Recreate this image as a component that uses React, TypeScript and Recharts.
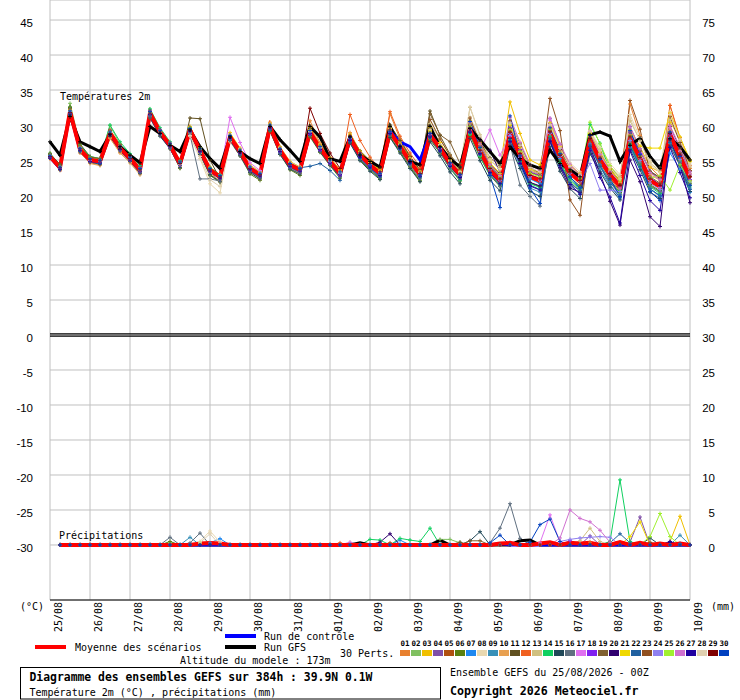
import React from "react";
import {
  CartesianGrid,
  Customized,
  Line,
  LineChart,
  ReferenceLine,
  XAxis,
  YAxis,
} from "recharts";

const MONO = "'DejaVu Sans Mono', monospace";
const SANS = "'Liberation Sans', Arial, sans-serif";

// time axis : 0..384h every 6h
const HOURS = Array.from({ length: 65 }, (_, i) => i * 6);
const DAY_TICKS = [0, 24, 48, 72, 96, 120, 144, 168, 192, 216, 240, 264, 288, 312, 336, 360, 384];
const DATES = ["25/08", "26/08", "27/08", "28/08", "29/08", "30/08", "31/08", "01/09", "02/09", "03/09", "04/09", "05/09", "06/09", "07/09", "08/09", "09/09", "10/09"];
const TEMP_TICKS = [-30, -25, -20, -15, -10, -5, 0, 5, 10, 15, 20, 25, 30, 35, 40, 45];
const PRECIP_TICKS = [0, 5, 10, 15, 20, 25, 30, 35, 40, 45, 50, 55, 60, 65, 70, 75];

const PERT_COLOURS = [
  "#e8802f", "#80c060", "#f0c000", "#8050a8", "#b05010", "#5a8010", "#1e88f0", "#e8d8b0", "#3890b8", "#e8a050",
  "#605020", "#f06020", "#d0c080", "#10d060", "#204858", "#607080", "#e070f0", "#8020f0", "#806030", "#300070",
  "#f0d800", "#2060a0", "#905020", "#9080f0", "#a0f030", "#d070d0", "#2000a0", "#e0d0b0", "#800000", "#0040c0",
];

// temperature 2m (°C)
const MEAN = [
  25.5, 23.9, 31.9, 26.5, 25.0, 24.8, 28.8, 26.7, 25.2, 23.6,
  31.7, 29.0, 27.1, 24.5, 29.3, 26.4, 23.6, 22.6, 28.3, 26.2,
  23.8, 22.9, 29.8, 26.4, 24.3, 23.6, 29.0, 26.7, 24.8, 23.1,
  28.1, 25.7, 24.3, 23.1, 29.0, 26.9, 24.8, 22.9, 28.6, 26.7,
  24.5, 22.9, 29.3, 26.2, 23.6, 22.1, 28.8, 25.7, 22.6, 22.1,
  28.8, 25.5, 23.1, 21.9, 27.9, 25.0, 22.9, 21.2, 28.1, 25.2,
  22.1, 21.2, 28.6, 25.5, 22.4,
];
const CONTROL = [
  25.4, 23.8, 31.8, 26.4, 24.9, 24.7, 28.7, 26.6, 25.1, 23.5,
  31.6, 28.9, 27.0, 24.4, 29.2, 26.3, 23.5, 22.5, 28.2, 26.1,
  23.7, 22.8, 29.7, 26.3, 24.2, 23.5, 28.9, 26.6, 24.7, 23.0,
  28.0, 25.6, 24.2, 23.0, 29.1, 27.6, 26.9, 25.0, 28.7, 26.8,
  24.6, 23.0, 29.4, 26.3, 23.7, 22.2, 28.9, 25.8, 22.7, 22.2,
  28.9, 25.6, 23.2, 22.0, 28.0, 25.1, 23.0, 21.3, 28.2, 25.3,
  22.2, 21.3, 28.7, 25.6, 22.5,
];
const GFS = [
  27.6, 25.7, 31.2, 27.6, 26.9, 26.2, 28.6, 26.9, 25.7, 24.6,
  29.8, 28.8, 27.1, 26.2, 29.3, 26.9, 25.2, 23.8, 28.3, 26.2,
  25.2, 24.5, 29.8, 27.9, 26.4, 24.8, 29.8, 28.3, 25.2, 24.8,
  28.3, 25.7, 24.8, 24.0, 29.8, 26.9, 24.8, 24.3, 29.8, 26.9,
  25.2, 24.0, 29.5, 27.9, 26.2, 24.5, 26.9, 25.2, 24.3, 23.8,
  26.4, 24.5, 23.6, 22.6, 28.6, 29.0, 28.4, 24.8, 27.1, 28.1,
  25.5, 23.8, 28.1, 26.9, 25.0,
];

const P01 = [25.2, 23.6, 31.5, 26.0, 24.6, 24.3, 28.2, 26.1, 24.9, 23.2, 31.0, 28.6, 26.8, 24.1, 29.6, 26.0, 23.2, 22.0, 28.0, 25.9, 23.4, 22.5, 30.4, 26.8, 24.6, 23.9, 30.6, 27.4, 25.3, 23.6, 28.9, 26.2, 24.9, 23.8, 31.6, 28.0, 25.6, 23.4, 29.3, 27.1, 25.0, 23.4, 30.1, 26.9, 24.4, 22.8, 29.4, 26.3, 23.5, 22.9, 29.6, 26.4, 23.9, 22.5, 28.9, 25.9, 23.8, 22.0, 33.0, 28.5, 24.0, 22.6, 32.8, 27.9, 23.8];
const P02 = [26.0, 24.2, 33.1, 27.2, 25.4, 25.1, 29.9, 27.3, 25.6, 23.9, 32.2, 29.3, 27.4, 24.6, 29.0, 26.1, 23.5, 22.3, 28.6, 26.6, 24.0, 23.0, 29.2, 26.0, 24.0, 23.2, 28.4, 26.2, 24.4, 22.6, 27.6, 25.1, 23.6, 22.4, 28.3, 26.2, 24.1, 22.1, 28.0, 26.3, 24.0, 22.2, 28.7, 25.6, 23.0, 21.4, 27.9, 24.8, 21.8, 21.2, 28.0, 24.6, 22.0, 20.8, 27.0, 24.1, 22.0, 20.2, 27.4, 24.6, 21.4, 20.4, 27.5, 24.9, 21.6];
const P03 = [25.6, 24.0, 32.0, 26.8, 25.2, 25.0, 29.1, 26.9, 25.4, 23.8, 31.9, 29.2, 27.3, 24.7, 29.8, 26.8, 24.0, 22.9, 28.9, 26.7, 24.3, 23.3, 30.2, 26.9, 24.8, 24.0, 29.6, 27.2, 25.3, 23.6, 28.7, 26.3, 24.9, 23.6, 29.8, 27.6, 25.4, 23.4, 29.6, 27.5, 25.2, 23.6, 30.6, 27.5, 24.9, 23.8, 33.3, 28.8, 25.0, 24.3, 30.2, 27.0, 24.3, 23.0, 28.8, 26.2, 24.0, 22.4, 29.3, 26.9, 24.0, 23.3, 30.4, 28.2, 25.0];
const P04 = [25.4, 23.8, 31.7, 26.4, 24.9, 24.6, 28.6, 26.5, 25.0, 23.4, 31.4, 28.8, 26.9, 24.3, 29.0, 26.2, 23.3, 22.4, 28.0, 26.0, 23.6, 22.6, 29.5, 26.1, 24.0, 23.3, 28.7, 26.4, 24.5, 22.8, 28.4, 26.0, 24.5, 23.3, 29.4, 27.3, 25.1, 23.1, 29.2, 27.0, 24.8, 23.0, 29.8, 26.7, 24.0, 22.4, 30.4, 27.0, 23.8, 22.9, 30.9, 27.2, 24.0, 22.6, 28.6, 25.9, 23.6, 21.8, 29.8, 26.6, 23.4, 22.4, 29.2, 26.4, 23.0];
const P05 = [25.7, 24.1, 32.3, 26.9, 25.3, 25.1, 29.3, 27.2, 25.6, 24.0, 32.0, 29.3, 27.4, 24.8, 29.1, 26.3, 23.5, 22.4, 28.1, 26.0, 23.6, 22.7, 29.6, 26.2, 24.1, 23.4, 28.8, 26.5, 24.6, 22.9, 28.0, 25.5, 24.0, 22.7, 28.8, 26.7, 24.6, 22.6, 28.4, 26.5, 24.3, 22.6, 29.1, 26.1, 23.3, 21.7, 29.0, 25.9, 22.4, 21.7, 29.2, 25.8, 23.2, 21.8, 27.6, 24.6, 22.4, 20.6, 28.0, 25.0, 21.9, 21.0, 28.3, 25.2, 22.1];
const P06 = [25.8, 24.3, 32.6, 27.0, 25.1, 24.8, 28.7, 26.6, 25.0, 23.3, 31.5, 28.8, 26.7, 23.8, 28.9, 25.8, 22.8, 21.8, 27.7, 25.6, 23.0, 22.1, 29.1, 25.8, 23.6, 22.8, 28.3, 26.1, 24.2, 22.4, 27.5, 25.0, 23.6, 22.3, 28.3, 26.2, 24.0, 22.0, 27.9, 26.0, 23.8, 22.0, 28.5, 25.4, 22.8, 21.2, 28.1, 24.9, 21.7, 21.2, 28.3, 25.0, 22.5, 21.3, 27.1, 24.3, 22.1, 20.4, 27.3, 24.6, 21.5, 20.6, 27.9, 25.0, 21.7];
const P07 = [25.3, 23.7, 31.6, 26.5, 25.0, 24.7, 29.0, 26.8, 25.3, 23.7, 31.8, 29.1, 27.2, 24.6, 29.5, 26.6, 23.8, 22.8, 28.4, 26.3, 23.9, 23.0, 29.9, 26.5, 24.4, 23.7, 29.1, 26.8, 24.9, 23.2, 28.2, 25.8, 24.3, 23.1, 29.2, 27.1, 25.0, 23.0, 28.9, 26.9, 24.7, 23.1, 29.7, 26.6, 23.9, 22.3, 28.5, 25.4, 22.3, 21.6, 28.9, 25.2, 22.6, 21.0, 27.3, 24.3, 21.9, 20.1, 26.8, 24.0, 20.9, 19.8, 26.0, 23.7, 20.4];
const P08 = [25.5, 23.9, 31.8, 26.4, 24.8, 24.6, 28.5, 26.3, 24.6, 22.9, 31.4, 28.6, 26.7, 24.0, 28.4, 25.2, 21.6, 20.3, 27.6, 25.7, 23.3, 22.4, 29.7, 26.3, 24.2, 23.5, 29.3, 26.9, 25.0, 23.3, 28.5, 26.1, 24.6, 23.4, 29.5, 27.3, 25.2, 23.2, 29.0, 27.0, 24.8, 23.2, 31.2, 27.9, 25.0, 23.8, 31.0, 27.6, 24.4, 23.7, 30.0, 26.9, 24.6, 23.3, 29.2, 26.8, 24.5, 22.9, 31.5, 28.2, 25.0, 23.8, 31.9, 28.0, 24.6];
const P09 = [25.6, 24.0, 32.0, 26.7, 25.1, 24.9, 28.9, 26.8, 25.3, 23.7, 31.9, 29.1, 27.2, 24.6, 29.4, 26.6, 23.7, 22.7, 28.4, 26.3, 23.8, 22.9, 29.8, 26.4, 24.3, 23.6, 28.9, 26.6, 24.7, 23.0, 27.8, 25.4, 23.9, 22.7, 28.6, 26.5, 24.4, 22.5, 28.2, 26.3, 24.1, 22.5, 28.8, 25.7, 23.0, 21.3, 27.4, 24.2, 21.0, 20.4, 27.6, 24.1, 21.5, 20.2, 26.4, 23.6, 21.3, 19.6, 26.9, 24.0, 20.8, 19.9, 27.4, 24.6, 21.0];
const P10 = [25.2, 23.5, 31.3, 26.1, 24.5, 24.2, 28.1, 26.0, 24.6, 22.9, 31.2, 28.5, 26.6, 23.9, 28.8, 25.9, 23.0, 22.0, 27.8, 25.7, 23.3, 22.3, 29.3, 25.9, 23.8, 23.1, 29.8, 27.3, 25.2, 23.4, 28.7, 26.2, 24.7, 23.5, 29.7, 27.4, 25.3, 23.4, 29.1, 27.0, 24.9, 23.3, 29.5, 26.4, 23.8, 22.4, 29.1, 26.0, 22.9, 22.4, 29.5, 26.1, 23.6, 22.6, 28.4, 25.6, 23.5, 21.8, 28.6, 25.8, 22.9, 22.1, 29.2, 26.3, 23.0];
const P11 = [25.9, 24.4, 32.5, 27.3, 25.5, 25.2, 29.0, 26.9, 25.3, 23.7, 31.3, 28.9, 27.0, 24.5, 31.0, 30.9, 25.0, 22.3, 27.9, 25.8, 23.4, 22.5, 29.5, 26.2, 24.1, 23.4, 29.3, 27.0, 25.0, 23.3, 28.5, 26.3, 24.9, 23.8, 30.0, 27.8, 25.5, 23.6, 32.0, 28.5, 25.8, 23.9, 30.4, 27.6, 25.3, 24.2, 30.0, 27.3, 24.2, 23.7, 29.4, 26.5, 24.1, 22.8, 28.6, 26.1, 23.7, 22.0, 29.0, 26.3, 23.4, 22.5, 29.8, 26.7, 23.4];
const P12 = [25.4, 23.8, 31.9, 26.6, 25.0, 24.7, 28.7, 26.6, 25.1, 23.5, 31.6, 28.9, 27.0, 24.4, 29.2, 26.3, 23.5, 22.5, 28.2, 26.1, 23.7, 22.8, 29.7, 26.3, 24.2, 23.5, 29.2, 26.9, 25.0, 23.3, 31.5, 27.8, 25.4, 23.7, 31.9, 28.4, 26.0, 24.0, 29.0, 27.0, 24.8, 23.2, 29.6, 26.5, 23.8, 22.2, 29.2, 26.0, 22.9, 22.4, 29.4, 26.0, 23.3, 22.2, 28.3, 25.4, 23.2, 21.6, 28.4, 25.5, 22.4, 21.5, 32.8, 28.2, 24.2];
const P13 = [25.6, 24.0, 31.7, 26.6, 25.1, 24.9, 29.2, 27.0, 25.4, 23.8, 31.7, 29.0, 27.1, 24.5, 29.0, 26.0, 23.0, 21.8, 28.6, 26.6, 24.2, 23.3, 30.1, 26.8, 24.7, 24.0, 29.0, 26.7, 24.8, 23.1, 28.0, 25.6, 24.1, 22.9, 29.2, 27.1, 25.0, 23.1, 30.2, 28.0, 25.7, 24.0, 32.5, 28.6, 25.2, 24.3, 30.1, 26.8, 23.5, 23.0, 29.9, 26.7, 24.2, 23.0, 29.0, 26.5, 24.1, 22.6, 30.6, 27.8, 24.6, 23.4, 30.8, 27.6, 24.0];
const P14 = [25.8, 24.2, 32.4, 27.1, 25.5, 25.2, 30.0, 27.6, 25.9, 24.2, 32.3, 29.6, 27.6, 24.9, 29.6, 26.7, 23.9, 22.9, 28.5, 26.4, 24.0, 23.1, 29.9, 26.6, 24.5, 23.8, 29.1, 26.8, 24.9, 23.2, 28.3, 25.9, 24.4, 23.2, 28.9, 26.8, 24.6, 22.6, 28.2, 26.1, 23.8, 22.1, 28.7, 25.5, 22.8, 21.5, 28.0, 24.8, 21.6, 21.1, 28.4, 24.6, 22.2, 20.9, 30.1, 27.4, 23.4, 20.6, 27.2, 24.3, 21.2, 20.2, 28.0, 24.8, 21.3];
const P15 = [25.3, 23.7, 31.4, 26.2, 24.7, 24.4, 28.4, 26.3, 24.8, 23.1, 31.0, 28.4, 26.6, 23.9, 28.7, 25.8, 22.9, 21.9, 27.8, 25.6, 23.2, 22.3, 29.2, 25.8, 23.7, 23.0, 28.5, 26.2, 24.3, 22.6, 27.4, 24.9, 23.4, 22.2, 28.2, 26.0, 23.8, 21.9, 27.6, 25.6, 23.3, 21.6, 28.1, 24.9, 22.1, 20.6, 27.0, 23.8, 20.5, 19.8, 26.9, 23.4, 20.9, 19.5, 25.9, 23.3, 21.0, 19.3, 26.5, 23.6, 20.4, 19.5, 27.0, 24.2, 20.5];
const P16 = [25.4, 23.8, 31.5, 26.2, 24.8, 24.5, 28.6, 26.4, 24.9, 23.2, 31.2, 28.6, 26.7, 24.3, 28.6, 22.3, 22.3, 22.0, 27.9, 25.8, 23.4, 22.5, 29.4, 26.0, 23.9, 23.2, 28.6, 26.3, 24.4, 22.7, 27.7, 25.2, 23.7, 22.5, 28.6, 26.4, 24.2, 22.3, 28.1, 26.1, 23.8, 22.2, 28.9, 25.8, 22.9, 21.3, 27.3, 21.4, 19.8, 18.4, 27.9, 24.3, 21.6, 20.6, 27.1, 24.1, 21.8, 20.0, 27.6, 24.6, 21.3, 20.5, 27.7, 24.8, 21.4];
const P17 = [25.5, 23.9, 31.9, 26.6, 25.1, 24.9, 29.1, 26.9, 25.4, 23.8, 31.8, 29.1, 27.2, 24.6, 29.5, 26.6, 23.8, 22.8, 31.1, 27.5, 24.6, 23.5, 30.0, 26.6, 24.5, 23.8, 29.2, 26.9, 25.0, 23.3, 28.3, 25.9, 24.4, 23.2, 29.1, 27.0, 24.9, 23.0, 28.8, 26.8, 24.6, 23.0, 29.5, 26.4, 29.3, 25.7, 28.4, 25.4, 22.7, 22.2, 30.7, 27.0, 24.0, 22.6, 29.1, 25.9, 23.3, 21.5, 28.3, 25.3, 22.1, 21.1, 29.6, 26.2, 22.9];
const P18 = [25.6, 24.0, 32.1, 26.8, 25.2, 25.0, 29.1, 27.0, 25.5, 23.9, 32.0, 29.3, 27.4, 24.7, 29.4, 26.5, 23.7, 22.6, 28.5, 26.4, 24.0, 23.1, 29.9, 26.5, 24.4, 23.7, 28.7, 26.4, 24.5, 22.8, 27.9, 25.5, 24.1, 22.8, 29.3, 27.2, 25.1, 23.1, 28.9, 26.9, 24.6, 22.9, 30.1, 27.0, 24.2, 22.5, 29.6, 26.5, 23.3, 22.8, 30.2, 26.7, 24.1, 22.9, 28.2, 25.2, 22.9, 21.3, 29.0, 25.9, 22.5, 21.4, 28.6, 25.6, 22.2];
const P19 = [25.7, 24.1, 32.0, 26.9, 25.3, 25.0, 28.9, 26.8, 25.3, 23.7, 31.9, 29.2, 27.3, 24.6, 29.4, 26.5, 23.7, 22.7, 28.4, 26.3, 23.9, 23.0, 29.7, 26.4, 24.3, 23.6, 28.9, 26.6, 24.7, 23.0, 28.2, 25.8, 24.3, 23.1, 29.6, 27.4, 25.3, 23.3, 31.6, 28.6, 27.6, 24.5, 30.0, 27.0, 24.4, 23.0, 29.5, 26.3, 23.2, 22.7, 29.3, 26.0, 23.4, 22.3, 28.2, 25.4, 23.1, 21.5, 28.5, 25.6, 22.6, 21.7, 28.9, 26.0, 22.7];
const P20 = [25.4, 23.8, 31.8, 26.5, 25.0, 24.8, 28.8, 26.7, 25.2, 23.6, 31.6, 28.9, 27.0, 24.4, 29.2, 26.3, 23.5, 22.5, 28.2, 26.1, 23.7, 22.8, 29.6, 26.3, 24.2, 23.5, 28.8, 26.5, 24.6, 22.9, 28.0, 25.6, 24.2, 23.0, 28.9, 26.8, 24.7, 22.8, 28.5, 26.5, 24.3, 22.7, 29.7, 27.9, 26.4, 23.2, 28.1, 24.9, 21.8, 21.3, 27.6, 23.9, 21.0, 20.4, 26.9, 23.1, 19.1, 15.7, 25.0, 21.9, 16.9, 15.5, 27.9, 24.3, 18.9];
const P21 = [25.6, 24.0, 32.2, 26.9, 25.3, 25.1, 29.0, 26.9, 25.4, 23.8, 31.8, 29.1, 27.2, 24.6, 29.5, 26.6, 23.8, 22.8, 28.5, 26.4, 24.0, 23.1, 30.0, 26.6, 24.5, 23.8, 29.3, 27.0, 25.1, 23.4, 28.6, 26.2, 24.7, 23.5, 29.5, 27.3, 25.2, 23.3, 29.2, 27.2, 25.0, 23.4, 30.3, 27.2, 24.6, 23.1, 30.0, 26.8, 23.7, 23.2, 30.3, 26.9, 24.2, 23.0, 28.9, 26.0, 23.7, 22.0, 29.2, 27.0, 26.7, 26.7, 31.7, 28.3, 24.8];
const P22 = [25.3, 23.6, 31.5, 26.3, 24.8, 24.5, 28.6, 26.5, 25.0, 23.4, 31.4, 28.7, 26.9, 24.2, 29.0, 26.1, 23.3, 22.3, 28.0, 25.9, 23.5, 22.6, 29.4, 26.0, 23.9, 23.9, 24.1, 24.5, 23.5, 22.1, 27.6, 25.2, 23.8, 22.6, 28.7, 26.6, 24.5, 22.6, 28.4, 26.4, 24.2, 22.6, 29.0, 25.9, 23.1, 21.7, 27.8, 24.6, 21.4, 20.8, 28.1, 24.4, 21.8, 20.6, 27.0, 24.1, 21.5, 19.6, 27.1, 24.1, 20.9, 19.9, 27.5, 24.4, 20.8];
const P23 = [25.7, 24.2, 32.3, 27.0, 25.4, 25.2, 29.2, 27.0, 25.4, 23.8, 31.9, 29.2, 27.3, 24.6, 29.5, 26.6, 23.7, 22.7, 28.4, 26.3, 23.9, 23.0, 29.9, 26.6, 24.5, 23.8, 29.2, 26.9, 24.9, 23.2, 28.3, 25.9, 24.4, 23.1, 29.3, 27.1, 25.0, 23.1, 30.8, 28.0, 25.6, 23.6, 31.0, 27.4, 24.3, 22.6, 30.6, 27.0, 24.0, 23.1, 33.8, 29.2, 19.3, 17.1, 28.0, 25.2, 23.0, 21.4, 33.5, 29.4, 23.3, 22.2, 31.2, 27.5, 23.5];
const P24 = [25.5, 23.9, 31.9, 26.6, 25.1, 24.9, 28.8, 26.7, 25.2, 23.6, 31.7, 29.0, 27.1, 24.5, 29.3, 26.4, 23.6, 22.6, 28.3, 26.2, 23.8, 22.9, 29.8, 26.4, 24.3, 23.6, 29.0, 26.7, 24.8, 23.1, 28.1, 25.7, 24.3, 23.1, 29.0, 26.9, 24.8, 22.9, 28.6, 26.7, 24.5, 22.9, 29.3, 26.2, 23.6, 22.1, 28.8, 25.7, 22.6, 22.1, 28.8, 25.5, 23.1, 21.9, 24.5, 20.7, 20.7, 20.5, 27.8, 24.9, 21.7, 20.8, 28.2, 25.1, 21.9];
const P25 = [25.6, 24.0, 32.0, 26.7, 25.2, 24.9, 29.0, 26.9, 25.3, 23.7, 31.8, 29.1, 27.2, 24.6, 29.4, 26.5, 23.7, 22.7, 28.4, 26.3, 23.9, 23.0, 29.9, 26.5, 24.4, 23.7, 29.1, 26.8, 24.9, 23.2, 28.3, 25.9, 24.4, 23.2, 29.2, 27.1, 25.0, 23.0, 29.0, 27.0, 24.7, 23.1, 29.8, 26.7, 24.1, 22.6, 29.3, 26.2, 23.1, 22.6, 29.4, 26.0, 23.6, 22.4, 30.4, 27.3, 24.2, 22.3, 28.4, 25.5, 22.4, 22.8, 20.7, 24.3, 22.0];
const P26 = [25.4, 23.8, 31.8, 26.5, 24.9, 24.7, 28.6, 26.5, 25.0, 23.4, 31.5, 28.8, 26.9, 24.3, 29.1, 26.2, 23.4, 22.4, 28.1, 26.0, 23.6, 22.7, 29.6, 26.2, 24.1, 23.4, 28.8, 26.5, 24.6, 22.9, 28.4, 26.0, 24.5, 23.3, 29.1, 27.0, 24.9, 22.8, 28.7, 26.6, 24.4, 22.8, 30.4, 27.3, 24.4, 22.8, 31.1, 27.5, 24.3, 23.5, 31.0, 27.3, 24.4, 22.9, 28.5, 25.8, 23.3, 21.0, 29.7, 26.6, 23.2, 22.2, 29.9, 26.9, 23.3];
const P27 = [25.3, 23.7, 31.6, 26.4, 24.8, 24.6, 28.6, 26.5, 25.0, 23.4, 31.5, 28.8, 26.9, 24.3, 29.1, 26.2, 23.4, 22.4, 28.1, 26.0, 23.6, 22.7, 29.6, 26.2, 24.1, 23.4, 28.8, 26.5, 24.6, 22.9, 27.8, 25.4, 24.0, 22.8, 28.8, 26.7, 24.6, 22.7, 28.3, 26.3, 24.1, 22.5, 29.0, 25.9, 23.2, 21.6, 27.6, 24.5, 21.3, 20.7, 27.7, 24.2, 21.5, 20.1, 26.4, 22.5, 19.7, 16.0, 26.3, 22.8, 19.2, 17.8, 26.8, 23.2, 19.6];
const P28 = [25.6, 24.0, 31.9, 26.7, 25.1, 24.9, 28.9, 26.8, 25.3, 23.6, 31.7, 29.0, 27.1, 24.4, 28.5, 25.5, 22.2, 21.2, 28.5, 26.4, 24.0, 23.1, 30.0, 26.6, 24.5, 23.8, 29.1, 26.8, 24.9, 23.2, 28.3, 25.9, 24.4, 23.2, 29.4, 27.2, 25.1, 23.2, 29.4, 27.2, 24.9, 23.3, 32.6, 28.4, 25.0, 23.6, 30.3, 27.1, 23.9, 23.3, 30.0, 26.7, 24.1, 22.8, 29.0, 26.3, 23.9, 22.3, 31.0, 27.7, 24.4, 23.2, 31.5, 27.9, 24.3];
const P29 = [25.5, 23.9, 31.8, 26.6, 25.1, 24.9, 28.8, 26.7, 25.2, 23.6, 31.7, 29.0, 27.1, 24.5, 29.3, 26.4, 23.6, 22.6, 28.3, 26.2, 23.8, 22.9, 29.8, 26.5, 24.4, 23.7, 32.4, 28.8, 26.0, 23.8, 28.4, 26.0, 24.5, 23.3, 29.3, 27.1, 25.0, 23.1, 28.8, 26.8, 24.6, 23.0, 29.5, 26.4, 23.8, 22.3, 29.0, 25.9, 22.8, 22.3, 29.0, 25.7, 23.3, 22.1, 28.1, 25.2, 23.1, 21.4, 28.3, 25.4, 22.3, 21.4, 28.8, 25.7, 22.6];
const P30 = [25.6, 24.0, 32.0, 26.7, 25.2, 25.0, 29.0, 26.9, 25.4, 23.8, 31.9, 29.2, 27.3, 24.7, 29.5, 26.6, 23.8, 22.8, 28.5, 26.4, 24.0, 23.1, 30.0, 26.6, 24.5, 23.8, 29.2, 26.9, 25.0, 23.3, 28.2, 25.8, 24.3, 23.1, 29.1, 27.0, 24.9, 22.9, 28.8, 26.8, 24.6, 22.9, 30.5, 26.8, 22.8, 18.2, 31.3, 25.6, 21.0, 18.8, 29.6, 25.9, 22.6, 21.0, 28.5, 25.1, 22.3, 19.8, 29.2, 25.8, 20.5, 19.2, 29.0, 25.5, 21.4];

const PERTS = [P01, P02, P03, P04, P05, P06, P07, P08, P09, P10, P11, P12, P13, P14, P15, P16, P17, P18, P19, P20, P21, P22, P23, P24, P25, P26, P27, P28, P29, P30];

// precipitation (mm) : [hour, mm], every other 6h step is 0
const R01 = [[324, 0.4]];
const R02 = [[72, 0.3], [234, 0.8], [240, 0.8], [246, 0.3]];
const R03 = [[372, 0.5], [378, 4.1]];
const R04 = [[324, 1.3], [348, 0.4], [354, 4.0]];
const R05 = [[204, 0.3]];
const R06 = [[72, 0.5]];
const R07 = [[96, 0.3], [102, 0.9], [210, 0.7]];
const R08 = [[90, 0.5], [96, 2.0], [102, 0.4]];
const R09 = [[84, 1.1], [378, 1.4]];
const R10 = [[348, 0.4]];
const R11 = [[246, 0.4]];
const R12 = [[174, 0.3], [336, 0.3]];
const R13 = [[318, 0.6], [324, 2.4], [330, 0.5]];
const R14 = [[192, 0.8], [198, 0.7], [210, 0.95], [216, 0.7], [222, 0.5], [228, 2.4], [336, 0.5], [342, 9.3], [348, 0.5]];
const R15 = [[252, 0.6], [258, 1.9], [360, 1.0]];
const R16 = [[72, 1.1], [84, 0.3], [90, 1.7], [264, 0.3], [270, 2.4], [276, 5.9], [282, 0.95]];
const R17 = [[294, 0.3], [300, 4.3], [306, 0.4]];
const R18 = [[312, 0.6]];
const R19 = [[252, 0.6], [258, 0.6]];
const R20 = [[198, 0.4], [204, 1.6], [372, 0.4]];
const R21 = [[348, 1.2], [354, 3.3]];
const R22 = [[336, 0.3], [342, 1.6], [348, 0.3], [378, 0.2]];
const R23 = [[336, 0.4], [360, 0.4]];
const R24 = [[306, 0.5], [312, 0.8], [318, 1.0], [324, 1.1], [330, 1.2], [336, 1.1]];
const R25 = [[90, 0.3], [360, 1.2], [366, 4.5], [372, 1.2]];
const R26 = [[180, 0.4], [306, 1.0], [312, 5.0], [318, 3.8], [324, 3.3], [330, 2.1], [336, 0.4]];
const R27 = [[372, 0.5]];
const R28 = [[90, 0.3], [96, 1.6]];
const R29 = [];
const R30 = [[264, 0.3], [270, 1.4], [288, 0.4], [294, 2.9], [300, 3.7], [306, 0.5]];
const RAIN = [R01, R02, R03, R04, R05, R06, R07, R08, R09, R10, R11, R12, R13, R14, R15, R16, R17, R18, R19, R20, R21, R22, R23, R24, R25, R26, R27, R28, R29, R30];

const RAIN_MEAN = [[90, 0.2], [96, 0.3], [102, 0.2], [270, 0.2], [276, 0.3], [294, 0.2], [300, 0.4], [312, 0.3], [318, 0.2], [324, 0.3], [342, 0.4], [354, 0.3], [366, 0.2], [378, 0.2]];
const RAIN_CONTROL = [[270, 0.2]];
const RAIN_GFS = [[186, 0.3], [234, 0.7], [282, 0.6], [288, 0.7]];

const rainSeries = (ev: number[][]) =>
  HOURS.map((t) => (t === 0 ? null : ev.find((e) => e[0] === t)?.[1] ?? 0));

const rows = HOURS.map((t, i) => {
  const r: Record<string, number | null> = { t };
  PERTS.forEach((p, k) => (r["m" + k] = p[i]));
  RAIN.forEach((p, k) => (r["r" + k] = rainSeries(p)[i]));
  r.mean = MEAN[i];
  r.ctrl = CONTROL[i];
  r.gfs = GFS[i];
  r.rmean = rainSeries(RAIN_MEAN)[i];
  r.rctrl = rainSeries(RAIN_CONTROL)[i];
  r.rgfs = rainSeries(RAIN_GFS)[i];
  return r;
});

const cross = (colour: string) => (p: any) => {
  const { cx, cy, index } = p;
  if (cx == null || cy == null || p.value == null) return <g key={index} />;
  return (
    <path key={index} d={`M${cx - 2},${cy}h4M${cx},${cy - 2}v4`} stroke={colour} strokeWidth={1} fill="none" />
  );
};

const DateTick = ({ x, payload }: any) => {
  const i = DAY_TICKS.indexOf(payload.value);
  return (
    <text transform={`translate(${x + 11.5},602) rotate(-90)`} textAnchor="end" fontFamily={MONO} fontSize={10} fill="#000">
      {DATES[i]}
    </text>
  );
};
const LeftTick = ({ y, payload }: any) => (
  <text x={33} y={y + 7} textAnchor="end" fontFamily={SANS} fontSize={11.5} fill="#000">{payload.value}</text>
);
const RightTick = ({ y, payload }: any) => (
  <text x={715} y={y + 7} textAnchor="end" fontFamily={SANS} fontSize={11.5} fill="#000">{payload.value}</text>
);

const Overlay = () => (
  <g fontFamily={MONO} fill="#000">
    <text x={60} y={100} fontSize={10}>Températures 2m</text>
    <text x={59} y={539} fontSize={10}>Précipitations</text>
    <text x={20} y={610} fontSize={10}>(°C)</text>
    <text x={711} y={610} fontSize={10}>(mm)</text>
    <line x1={35} x2={66} y1={647} y2={647} stroke="#ff0000" strokeWidth={4} />
    <text x={75} y={650.5} fontSize={10}>Moyenne des scénarios</text>
    <line x1={225} x2={256} y1={636} y2={636} stroke="#0000ff" strokeWidth={4} />
    <text x={264} y={640} fontSize={10}>Run de contrôle</text>
    <line x1={225} x2={256} y1={647} y2={647} stroke="#000000" strokeWidth={4} />
    <text x={264} y={650.5} fontSize={10}>Run GFS</text>
    <text x={180} y={663.5} fontSize={10}>Altitude du modele : 173m</text>
    <text x={340} y={656.5} fontSize={10}>30 Perts.</text>
    {PERT_COLOURS.map((c, i) => (
      <g key={c + i}>
        <text x={405 + 11 * i} y={646} fontSize={7.5} fontWeight="bold" textAnchor="middle">
          {String(i + 1).padStart(2, "0")}
        </text>
        <rect x={400 + 11 * i} y={650} width={10} height={6} fill={c} />
      </g>
    ))}
    <rect x={20.5} y={667.5} width={420} height={31.5} fill="none" stroke="#000" strokeWidth={1} />
    <text x={29.5} y={681} fontSize={11.4} fontWeight="bold">Diagramme des ensembles GEFS sur 384h : 39.9N 0.1W</text>
    <text x={29.5} y={695.5} fontSize={10}>Température 2m (°C) , précipitations (mm)</text>
    <text x={450} y={675.5} fontSize={10}>Ensemble GEFS du 25/08/2026 - 00Z</text>
    <text x={450} y={695} fontSize={11.6} fontWeight="bold">Copyright 2026 Meteociel.fr</text>
  </g>
);

export default function App() {
  return (
    <div style={{ position: "absolute", left: 0, top: 0, background: "#fff" }}>
      <LineChart width={740} height={700} data={rows} margin={{ top: 0, right: 0, bottom: 0, left: 0 }}>
        <CartesianGrid xAxisId="x" yAxisId="t" stroke="#c0c0c0" strokeWidth={1} />
        <XAxis
          xAxisId="x"
          dataKey="t"
          type="number"
          domain={[0, 384]}
          ticks={DAY_TICKS}
          height={100}
          tick={<DateTick />}
          tickLine={false}
          axisLine={{ stroke: "#000" }}
          interval={0}
        />
        <YAxis
          yAxisId="t"
          orientation="left"
          width={50}
          domain={[-37.86, 47.86]}
          ticks={TEMP_TICKS}
          tick={<LeftTick />}
          tickLine={false}
          axisLine={false}
          interval={0}
          allowDataOverflow
        />
        <YAxis
          yAxisId="p"
          orientation="right"
          width={50}
          domain={[-7.86, 77.86]}
          ticks={PRECIP_TICKS}
          tick={<RightTick />}
          tickLine={false}
          axisLine={false}
          interval={0}
          allowDataOverflow
        />
        <ReferenceLine xAxisId="x" yAxisId="t" y={0.17} stroke="#000" strokeWidth={1.2} />
        <ReferenceLine xAxisId="x" yAxisId="t" y={-0.17} stroke="#000" strokeWidth={1.2} />
        {PERT_COLOURS.map((c, k) => (
          <Line key={"m" + k} xAxisId="x" yAxisId="t" dataKey={"m" + k} stroke={c} strokeWidth={1} dot={cross(c)} isAnimationActive={false} type="linear" />
        ))}
        {PERT_COLOURS.map((c, k) => (
          <Line key={"r" + k} xAxisId="x" yAxisId="p" dataKey={"r" + k} stroke={c} strokeWidth={1} dot={cross(c)} isAnimationActive={false} type="linear" />
        ))}
        <Line xAxisId="x" yAxisId="t" dataKey="gfs" stroke="#000" strokeWidth={3} dot={cross("#000")} isAnimationActive={false} type="linear" />
        <Line xAxisId="x" yAxisId="p" dataKey="rgfs" stroke="#000" strokeWidth={3} dot={false} isAnimationActive={false} type="linear" />
        <Line xAxisId="x" yAxisId="t" dataKey="ctrl" stroke="#0000ff" strokeWidth={3} dot={false} isAnimationActive={false} type="linear" />
        <Line xAxisId="x" yAxisId="p" dataKey="rctrl" stroke="#0000ff" strokeWidth={3} dot={false} isAnimationActive={false} type="linear" />
        <Line xAxisId="x" yAxisId="t" dataKey="mean" stroke="#ff0000" strokeWidth={4} dot={false} isAnimationActive={false} type="linear" />
        <Line xAxisId="x" yAxisId="p" dataKey="rmean" stroke="#ff0000" strokeWidth={4} dot={false} isAnimationActive={false} type="linear" />
        <Customized component={Overlay} />
      </LineChart>
    </div>
  );
}
